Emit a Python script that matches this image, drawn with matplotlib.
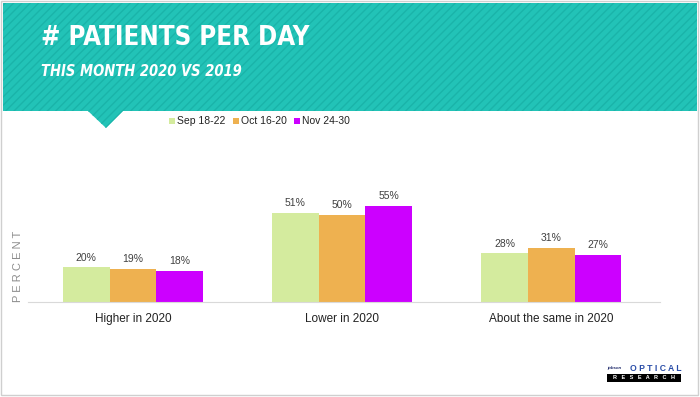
import matplotlib.pyplot as plt
from matplotlib.patches import Polygon, Rectangle
import numpy as np

categories = ["Higher in 2020", "Lower in 2020", "About the same in 2020"]
series_names = ["Sep 18-22", "Oct 16-20", "Nov 24-30"]
sep_vals = [20, 51, 28]
oct_vals = [19, 50, 31]
nov_vals = [18, 55, 27]
colors = ["#D4EB9E", "#EEB150", "#CC00FF"]

fig = plt.figure(figsize=(7, 3.97), dpi=100)
fig.patch.set_facecolor("white")

# background layer in pixel coords
bg = fig.add_axes([0, 0, 1, 1], zorder=0)
bg.set_xlim(0, 700)
bg.set_ylim(397, 0)
bg.axis("off")
bg.add_patch(Rectangle((1, 1), 697, 394, facecolor="white", edgecolor="#CFCFCF", lw=1))
banner = [(3, 3), (697, 3), (697, 111), (123, 111), (106, 128), (88, 111), (3, 111)]
bg.add_patch(Polygon(banner, closed=True, facecolor="#22C3B7", edgecolor="#1AB4A9",
                     hatch="////", lw=0))
bg.text(41, 38, "# PATIENTS PER DAY", color="white", fontsize=18.5, fontweight="bold",
        family="DejaVu Sans", fontstretch="condensed", va="center", ha="left")
bg.text(41, 71, "THIS MONTH 2020 VS 2019", color="white", fontsize=10.5, fontweight="bold",
        style="italic", family="DejaVu Sans", fontstretch="condensed", va="center", ha="left")

sans = "Liberation Sans"
# legend
leg_x = [172, 236, 297]
for lx, name, c in zip(leg_x, series_names, colors):
    bg.add_patch(Rectangle((lx - 3, 118), 6, 6, facecolor=c, lw=0))
    bg.text(lx + 5, 121.5, name, fontsize=7.5, va="center", ha="left",
            family=sans, color="#222222")

bg.text(18, 266, "P E R C E N T", rotation=90, fontsize=8, color="#8C8C8C",
        va="center", ha="center", family=sans)

# logo
bg.text(607, 368.5, "jobson", fontsize=3.2, style="italic", color="#1F2A6B", va="center",
        ha="left", fontweight="bold", family=sans)
bg.text(681, 368.5, "O P T I C A L", fontsize=6.2, color="#2A4DA8", va="center",
        ha="right", fontweight="bold", family=sans)
bg.add_patch(Rectangle((607, 374), 74, 7.5, facecolor="black", lw=0))
bg.text(644, 377.8, "R   E   S   E   A   R   C   H", fontsize=4, color="white",
        va="center", ha="center", fontweight="bold", family=sans)

# main chart
ax = fig.add_axes([28 / 700, 95 / 397, 632 / 700, 105 / 397], zorder=1)
ax.patch.set_alpha(0)
x = np.arange(len(categories))
w = 0.223
for i, (vals, c) in enumerate(zip([sep_vals, oct_vals, nov_vals], colors)):
    pos = x + (i - 1) * w
    ax.bar(pos, vals, width=w, color=c, edgecolor="none")
    for p, v in zip(pos, vals):
        ax.text(p, v + 2.5, f"{v}%", ha="center", va="bottom", fontsize=7.5,
                color="#404040", family=sans, clip_on=False)

ax.set_xlim(-0.502, 2.52)
ax.set_ylim(0, 60)
ax.set_yticks([])
ax.set_xticks(x)
ax.set_xticklabels(categories, fontsize=8.5, family=sans, color="#222222")
ax.tick_params(axis="x", length=0, pad=8)
for s in ["top", "right", "left"]:
    ax.spines[s].set_visible(False)
ax.spines["bottom"].set_color("#D9D9D9")

fig.savefig("out.png", dpi=100)
